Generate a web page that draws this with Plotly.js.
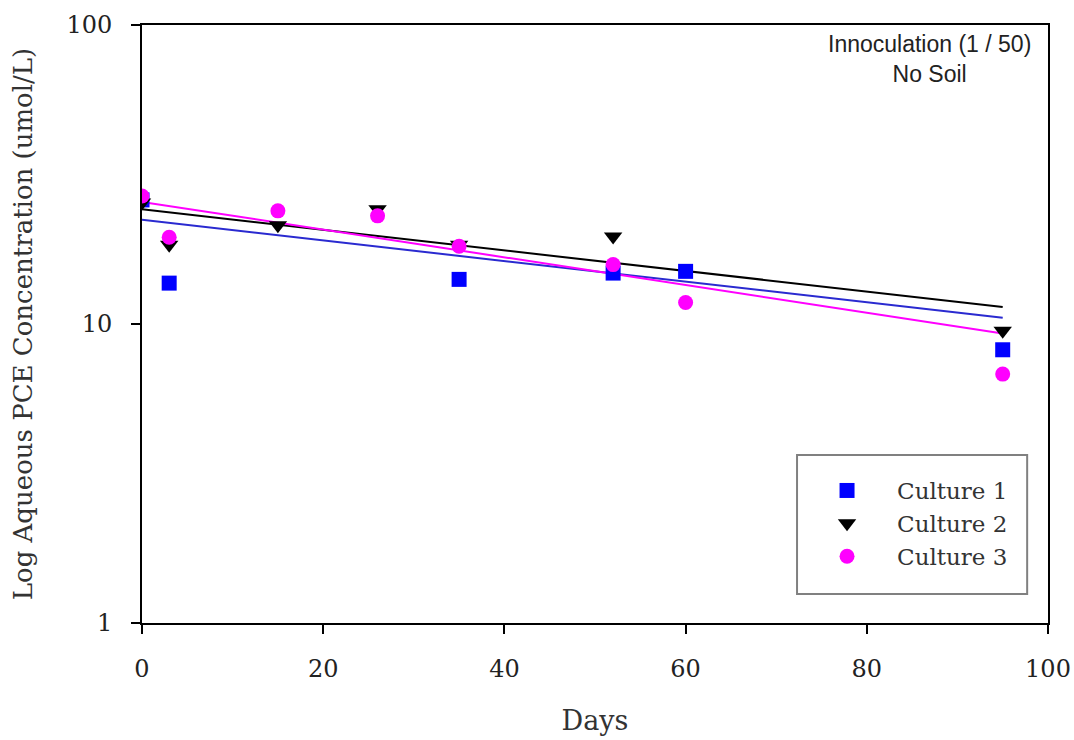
<!DOCTYPE html>
<html>
<head>
<meta charset="utf-8">
<script src="https://cdn.plot.ly/plotly-3.0.1.min.js"></script>
<style>html,body{margin:0;padding:0;background:#fff;}#chart{width:1074px;height:740px;}</style>
</head>
<body>
<div id="chart"></div>
<script>
// Data
const days = [0, 3, 15, 26, 35, 52, 60, 95];
const culture1 = [26.0, 13.7, null, null, 14.1, 14.8, 15.0, 8.2];
const culture2 = [25.5, 18.4, 21.4, 24.2, 18.4, 19.6, null, 9.5];
const culture3 = [26.8, 19.5, 23.9, 23.0, 18.2, 15.8, 11.8, 6.8];
// Exponential trendlines (end values)
const trendDays = [0, 95];
const trend1 = [22.3, 10.5];
const trend2 = [24.2, 11.4];
const trend3 = [25.6, 9.3];
const seriesNames = ["Culture 1", "Culture 2", "Culture 3"];
const xTicks = [0, 20, 40, 60, 80, 100];
const yTicks = [1, 10, 100];
const yTickText = ["1", "10", "100"];

const serif = "DejaVu Serif";
const traces = [
  {x: trendDays, y: trend1, mode: "lines", line: {color: "#2a2ad0", width: 2}, showlegend: false, hoverinfo: "skip"},
  {x: trendDays, y: trend2, mode: "lines", line: {color: "#000000", width: 2}, showlegend: false, hoverinfo: "skip"},
  {x: trendDays, y: trend3, mode: "lines", line: {color: "#ff00ff", width: 2}, showlegend: false, hoverinfo: "skip"},
  {x: days, y: culture1, name: seriesNames[0], mode: "markers", marker: {symbol: "square", size: 15, color: "#0000ff"}},
  {x: days, y: culture2, name: seriesNames[1], mode: "markers", marker: {symbol: "triangle-down", size: 16, color: "#000000"}},
  {x: days, y: culture3, name: seriesNames[2], mode: "markers", marker: {symbol: "circle", size: 15, color: "#ff00ff"}}
];

const layout = {
  width: 1074, height: 740,
  margin: {l: 142, r: 26, t: 25, b: 117},
  paper_bgcolor: "#ffffff", plot_bgcolor: "#ffffff",
  font: {family: serif, color: "#222222"},
  xaxis: {
    range: [0, 100], tickvals: xTicks, showgrid: false, zeroline: false,
    showline: true, linecolor: "#000", linewidth: 2, mirror: true,
    ticks: "outside", ticklen: 9, tickwidth: 2, tickcolor: "#000",
    ticklabelstandoff: 14,
    tickfont: {family: serif, size: 24, color: "#222"},
    title: {text: "Days", font: {family: serif, size: 27, color: "#333"}, standoff: 29}
  },
  yaxis: {
    type: "log", range: [0, 2], tickvals: yTicks, ticktext: yTickText,
    showgrid: false, zeroline: false,
    showline: true, linecolor: "#000", linewidth: 2, mirror: true,
    ticks: "outside", ticklen: 9, tickwidth: 2, tickcolor: "#000",
    ticklabelstandoff: 14,
    tickfont: {family: serif, size: 24, color: "#222"},
    title: {text: "Log Aqueous PCE Concentration (umol/L)", font: {family: serif, size: 26, color: "#333"}, standoff: 26}
  },
  legend: {
    x: 0.723, y: 0.2575, xanchor: "left", yanchor: "top",
    bgcolor: "rgba(0,0,0,0)", borderwidth: 0,
    font: {family: serif, size: 23, color: "#333"},
    itemwidth: 90, tracegroupgap: 0
  },
  shapes: [{
    type: "rect", xref: "paper", yref: "paper",
    x0: 0.723, x1: 0.977, y0: 0.0485, y1: 0.281,
    line: {color: "#808080", width: 2}, fillcolor: "#ffffff", layer: "above"
  }],
  annotations: [{
    xref: "paper", yref: "paper", x: 0.869, y: 0.993, xanchor: "center", yanchor: "top",
    text: "Innoculation (1 / 50)<br>No Soil", showarrow: false, align: "center",
    font: {family: "Liberation Sans", size: 23, color: "#222"}
  }],
  showlegend: true
};

Plotly.newPlot("chart", traces, layout, {displayModeBar: false, staticPlot: true});
</script>
</body>
</html>
